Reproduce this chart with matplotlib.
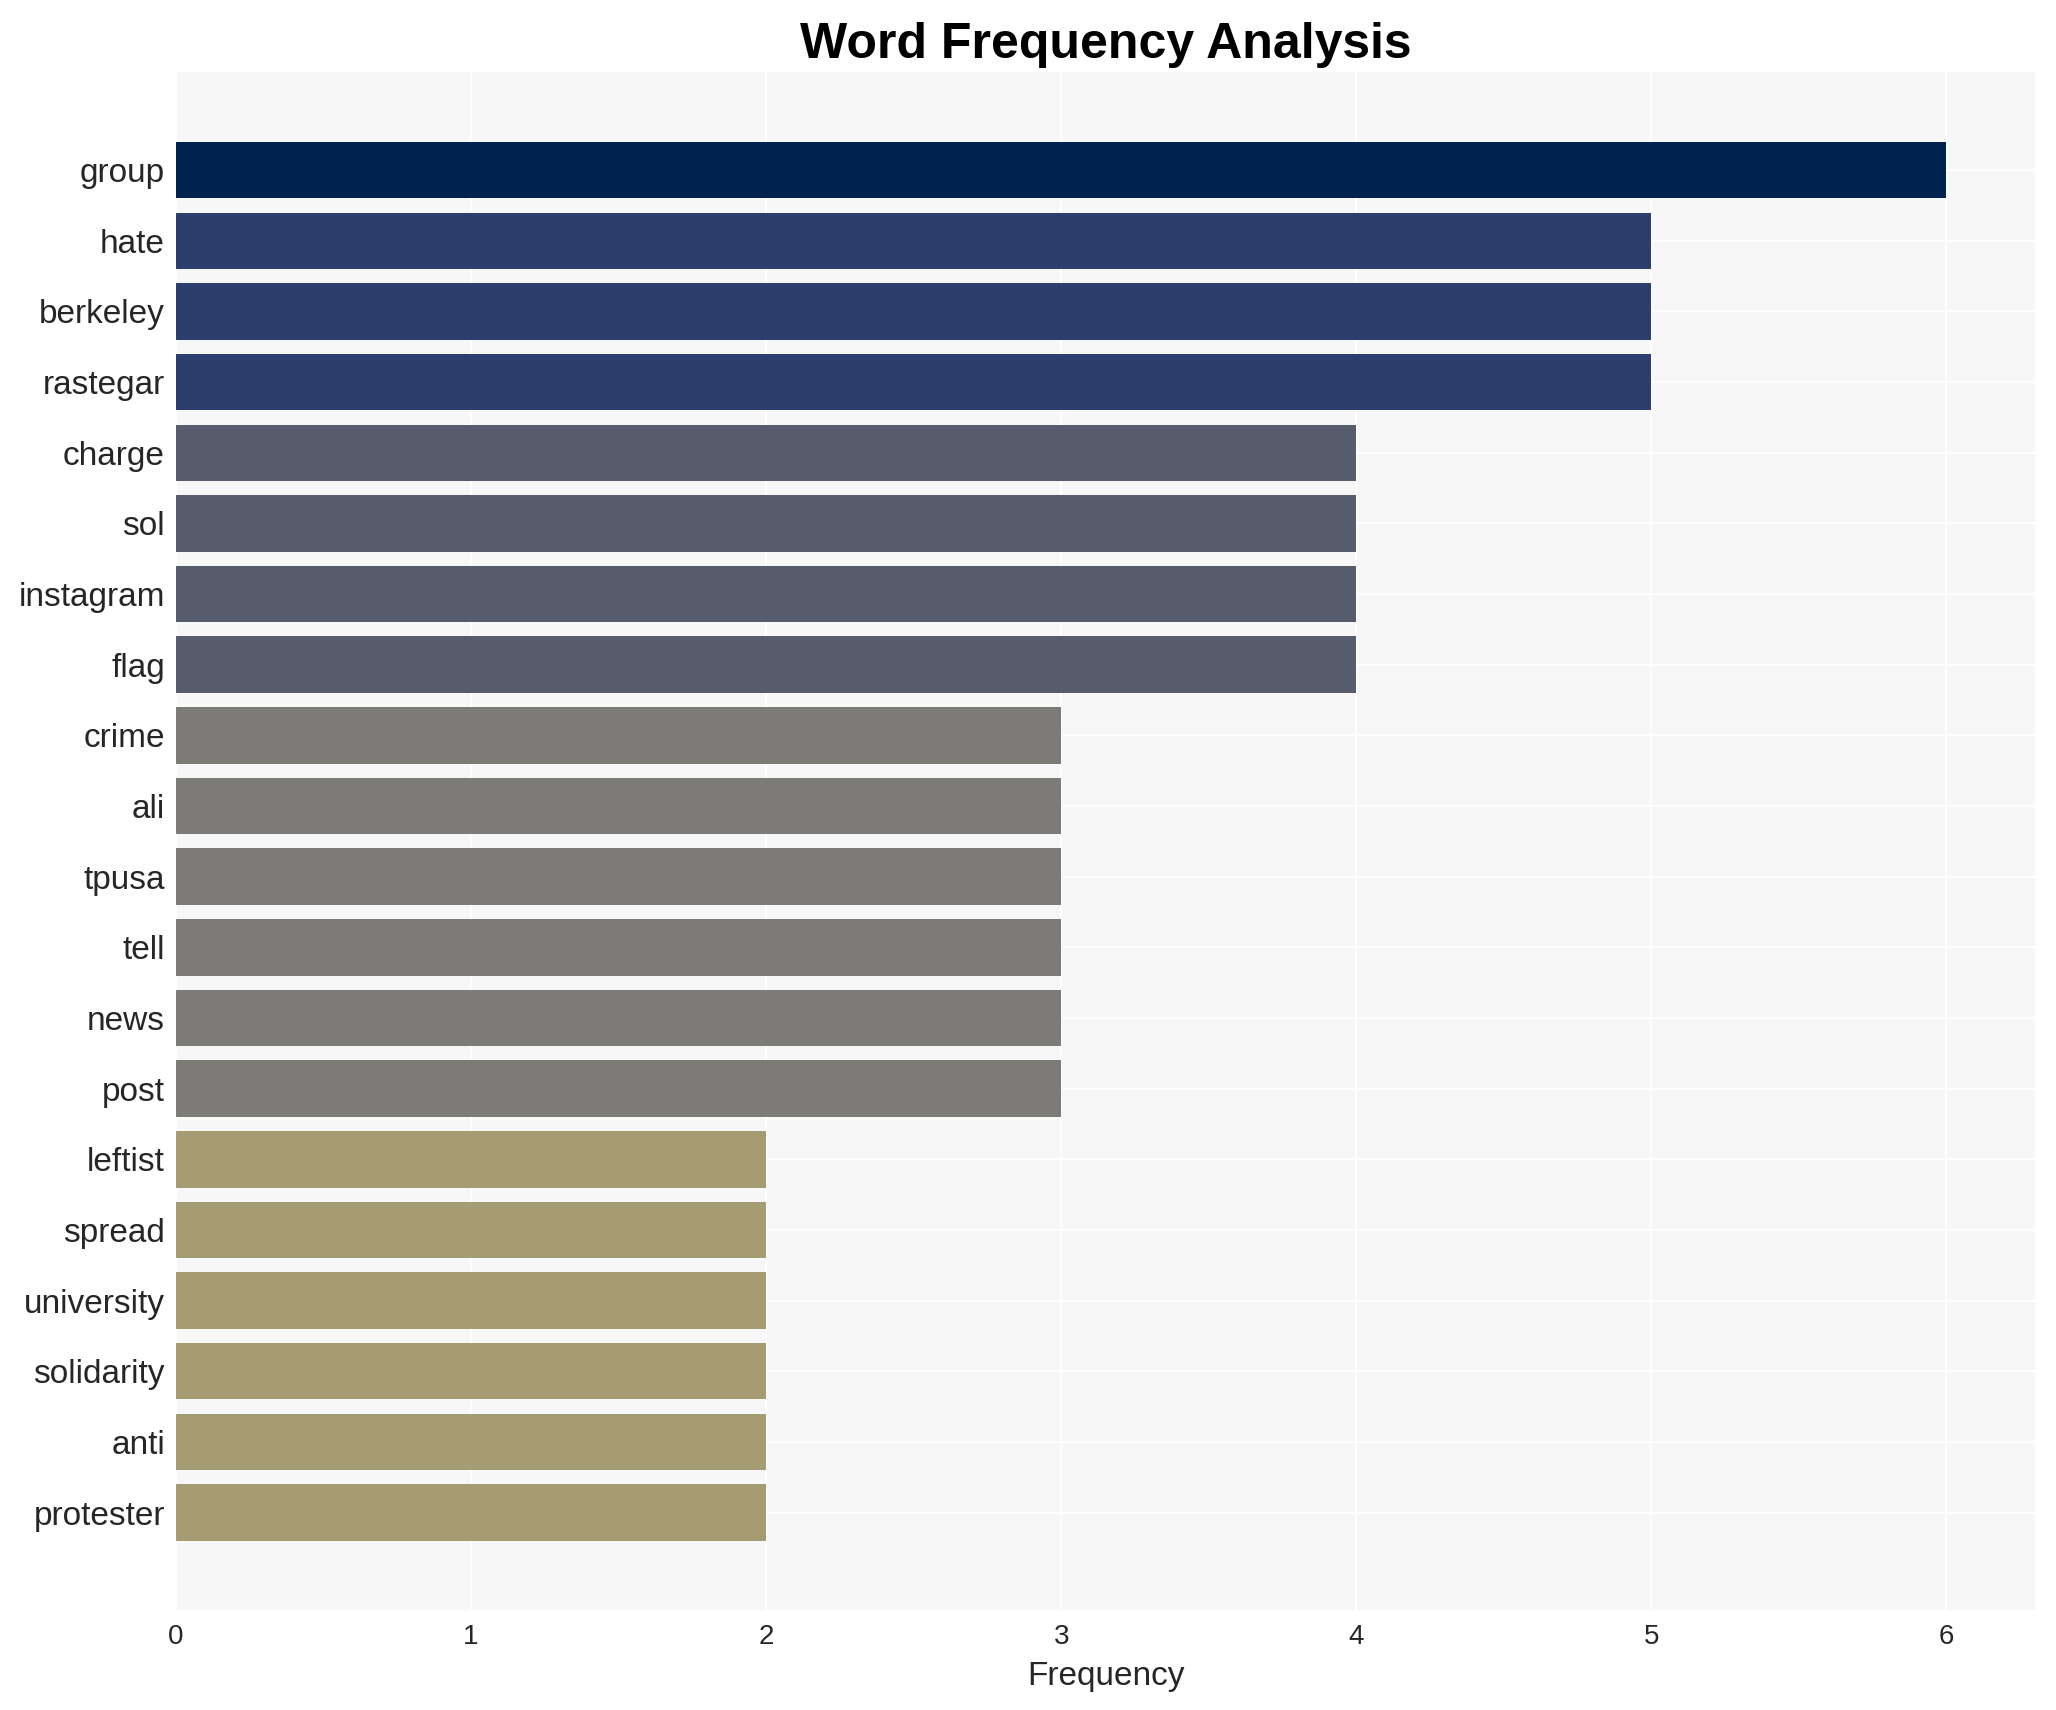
import numpy as np
import matplotlib.pyplot as plt

words = ['group', 'hate', 'berkeley', 'rastegar', 'charge', 'sol', 'instagram', 'flag',
         'crime', 'ali', 'tpusa', 'tell', 'news', 'post', 'leftist', 'spread',
         'university', 'solidarity', 'anti', 'protester']
counts = [6, 5, 5, 5, 4, 4, 4, 4, 3, 3, 3, 3, 3, 3, 2, 2, 2, 2, 2, 2]

# colour per frequency level
level_colors = {6: '#00224e', 5: '#2c3e6e', 4: '#575d6d', 3: '#7c7b78', 2: '#a59c74'}

plt.rcParams['font.family'] = ['Liberation Sans', 'DejaVu Sans']

fig = plt.figure(figsize=(20.56, 17.10), dpi=100)
ax = fig.add_axes([176 / 2056, 1 - 1610 / 1710, (2035 - 176) / 2056, (1610 - 72) / 1710])
ax.set_facecolor('#f7f7f7')

y = np.arange(len(words))
ax.barh(y, counts, height=0.8, color=[level_colors[c] for c in counts], zorder=2)

ax.set_yticks(y)
ax.set_yticklabels(words)
ax.set_ylim(len(words) - 1 + 1.38, -1.39)
ax.set_xlim(0, 6.3)
ax.set_xticks(range(7))

ax.grid(True, color='white', linewidth=1.5, zorder=0)
ax.set_axisbelow(True)
for s in ax.spines.values():
    s.set_visible(False)
ax.tick_params(axis='y', length=0, labelsize=24, labelcolor='#262626', pad=8)
ax.tick_params(axis='x', length=0, labelsize=20, labelcolor='#262626', pad=10)

ax.set_xlabel('Frequency', fontsize=24, color='#262626', labelpad=8)
ax.set_title('Word Frequency Analysis', fontsize=36, fontweight='bold', pad=10)

fig.savefig('out.png', dpi=100)
